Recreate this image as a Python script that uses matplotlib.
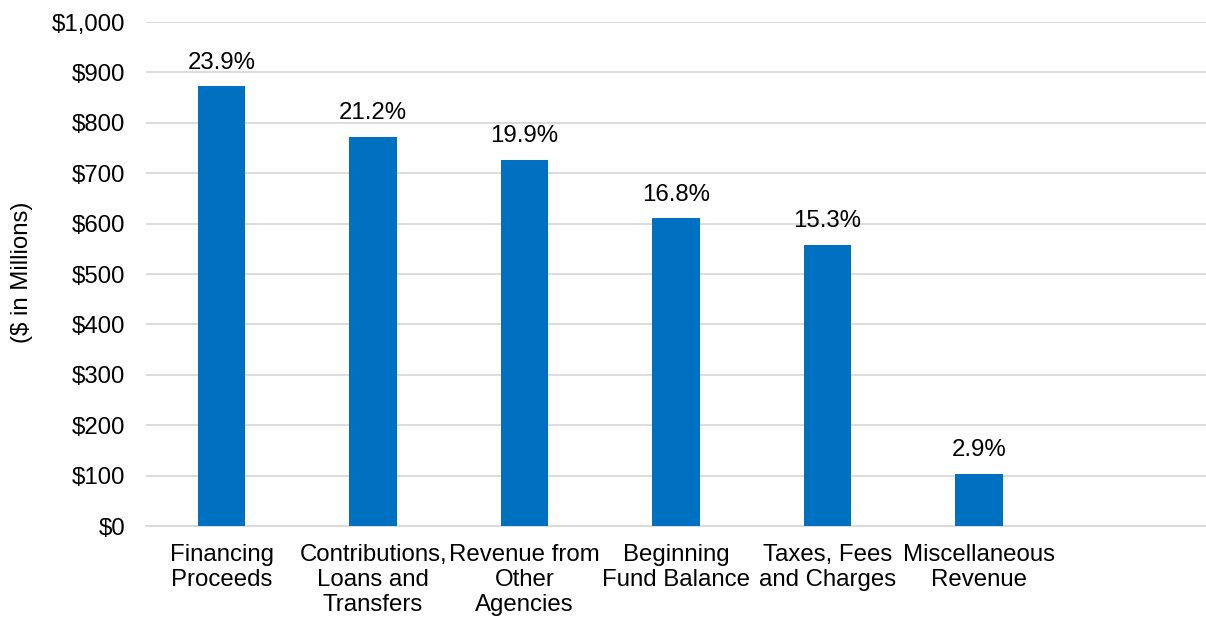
import matplotlib
matplotlib.use("Agg")
import matplotlib.pyplot as plt
from matplotlib.ticker import FuncFormatter

plt.rcParams["font.family"] = ["Liberation Sans", "DejaVu Sans"]

# data
categories = ["Financing\nProceeds", "Contributions,\nLoans and\nTransfers",
              "Revenue from\nOther\nAgencies", "Beginning\nFund Balance",
              "Taxes, Fees\nand Charges", "Miscellaneous\nRevenue"]
values = [873, 772, 727, 611, 558, 104]
shares = [23.9, 21.2, 19.9, 16.8, 15.3, 2.9]
n_slots = 7  # the source chart keeps one empty category slot on the right

BLUE = "#0070C0"
GRID = "#D9D9D9"
FS = 17.3

fig = plt.figure(figsize=(12.06, 6.22), dpi=100)
ax = fig.add_axes([0.121, 0.1543, 0.879, 0.8103])

x = list(range(len(values)))
bars = ax.bar(x, values, width=0.315, color=BLUE, zorder=3)
for b, s in zip(bars, shares):
    ax.annotate(f"{s:.1f}%", (b.get_x() + b.get_width() / 2, b.get_height()),
                xytext=(0, 9), textcoords="offset points",
                ha="center", va="bottom", fontsize=FS)

ax.set_xlim(-0.5, n_slots - 0.5)
ax.set_ylim(0, 1000)
ax.set_yticks(range(0, 1001, 100))
ax.yaxis.set_major_formatter(FuncFormatter(lambda v, p: f"${v:,.0f}"))
ax.set_xticks(x)
ax.set_xticklabels(categories, fontsize=FS, linespacing=1.18, va="top")
ax.tick_params(axis="y", labelsize=FS, length=0, pad=15)
ax.tick_params(axis="x", length=0, pad=13)
ax.grid(axis="y", color=GRID, lw=1.3, zorder=0)
for sp in ["top", "right", "left"]:
    ax.spines[sp].set_visible(False)
ax.spines["bottom"].set_color(GRID)
ax.spines["bottom"].set_linewidth(1.3)

fig.text(22 / 1206, 1 - 272 / 622, "($ in Millions)", rotation=90,
         ha="center", va="center", fontsize=FS)

fig.savefig("out.png", dpi=100)
